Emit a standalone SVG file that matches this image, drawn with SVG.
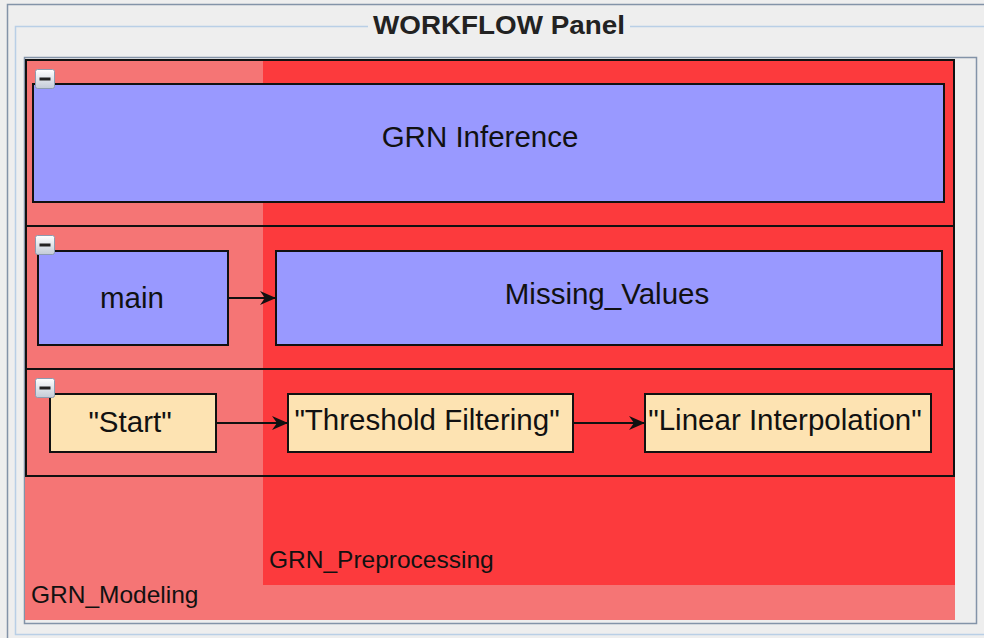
<svg xmlns="http://www.w3.org/2000/svg" width="984" height="638" viewBox="0 0 984 638">
  <style>
    .lbl { font-family: "Liberation Sans", Arial, sans-serif; fill: #111; }
    .node { font-size: 29.5px; text-anchor: middle; }
    .grp { font-size: 24.5px; }
    .task { fill: #9999FF; stroke: #111; stroke-width: 2; }
    .step { fill: #FDE3B2; stroke: #111; stroke-width: 2; }
    .row { fill: none; stroke: #111; stroke-width: 2; }
    .edge { stroke: #111; stroke-width: 2; fill: none; marker-end: url(#arr); }
    .btnbg { fill: url(#btn); stroke: #8C9BB0; stroke-width: 1; }
  </style>
  <defs>
    <marker id="arr" markerUnits="userSpaceOnUse" markerWidth="18" markerHeight="16" refX="16" refY="8" orient="auto">
      <path d="M0,1 L16,8 L0,15 L5,8 z" fill="#111"/>
    </marker>
    <linearGradient id="btn" x1="0" y1="0" x2="0" y2="1">
      <stop offset="0" stop-color="#FFFFFF"/>
      <stop offset="1" stop-color="#C3CBD7"/>
    </linearGradient>
  </defs>

  <!-- window background and frames -->
  <rect x="0" y="0" width="984" height="638" fill="#EEEEEE"/>
  <rect x="7.5" y="4.5" width="990" height="640" fill="none" stroke="#8393A8" stroke-width="1.5"/>
  <rect x="15.5" y="26.5" width="980" height="608" fill="none" stroke="#B9CFE6" stroke-width="1.5"/>
  <rect x="368" y="14" width="262" height="24" fill="#EEEEEE"/>
  <text x="499" y="34" font-family="Liberation Sans, Arial, sans-serif" font-weight="bold" font-size="26" text-anchor="middle" fill="#222" textLength="252" lengthAdjust="spacingAndGlyphs">WORKFLOW Panel</text>
  <rect x="24.5" y="57.5" width="952" height="566" fill="#EEEEEE" stroke="#8393A8" stroke-width="1.5"/>

  <!-- group containers -->
  <g id="GRN_Modeling">
    <rect x="25" y="59" width="930" height="561" fill="#F57575"/>
    <text class="lbl grp" x="31" y="603">GRN_Modeling</text>
  </g>
  <g id="GRN_Preprocessing">
    <rect x="263" y="59" width="692" height="526" fill="#FC3A3D"/>
    <text class="lbl grp" x="269" y="568">GRN_Preprocessing</text>
  </g>

  <!-- rows -->
  <g id="row1">
    <rect class="row" x="26" y="60" width="928" height="166"/>
  </g>
  <g id="row2">
    <rect class="row" x="26" y="226" width="928" height="143"/>
  </g>
  <g id="row3">
    <rect class="row" x="26" y="369" width="928" height="107"/>
  </g>

  <!-- nodes -->
  <g id="GRN_Inference">
    <rect class="task" x="33" y="84" width="911" height="118"/>
    <text class="lbl node" x="480" y="147">GRN Inference</text>
  </g>
  <g id="main">
    <rect class="task" x="38" y="251" width="190" height="94"/>
    <text class="lbl node" x="132" y="308">main</text>
  </g>
  <g id="Missing_Values">
    <rect class="task" x="276" y="251" width="666" height="94"/>
    <text class="lbl node" x="607" y="304">Missing_Values</text>
  </g>
  <g id="Start">
    <rect class="step" x="50" y="394" width="166" height="58"/>
    <text class="lbl node" x="130" y="432">"Start"</text>
  </g>
  <g id="Threshold_Filtering">
    <rect class="step" x="288" y="394" width="285" height="58"/>
    <text class="lbl node" x="427" y="430">"Threshold Filtering"</text>
  </g>
  <g id="Linear_Interpolation">
    <rect class="step" x="645" y="394" width="286" height="58"/>
    <text class="lbl node" x="785" y="430">"Linear Interpolation"</text>
  </g>

  <!-- collapse buttons -->
  <g id="buttons">
    <rect class="btnbg" x="35.5" y="69.5" width="19" height="19" rx="2"/>
    <rect x="39.5" y="77.5" width="11" height="3" fill="#222"/>
    <rect class="btnbg" x="35.5" y="235.5" width="19" height="19" rx="2"/>
    <rect x="39.5" y="243.5" width="11" height="3" fill="#222"/>
    <rect class="btnbg" x="35.5" y="378.5" width="19" height="19" rx="2"/>
    <rect x="39.5" y="386.5" width="11" height="3" fill="#222"/>
  </g>

  <!-- connectors -->
  <g id="connectors">
    <line class="edge" x1="228" y1="298" x2="276" y2="298"/>
    <line class="edge" x1="216" y1="423" x2="288" y2="423"/>
    <line class="edge" x1="573" y1="423" x2="645" y2="423"/>
  </g>
</svg>
